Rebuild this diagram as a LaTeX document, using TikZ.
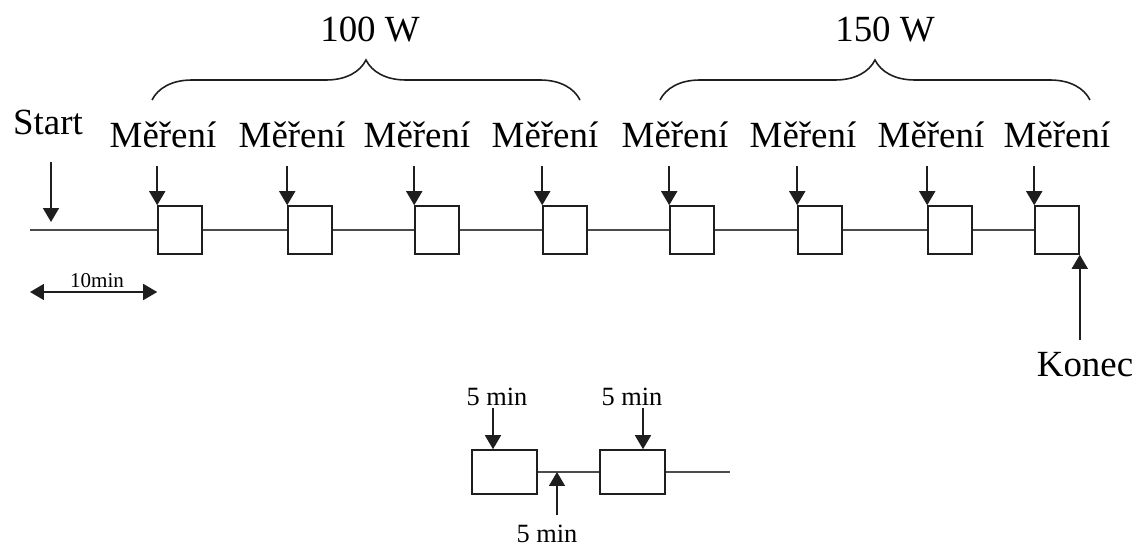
\documentclass[tikz,border=0pt]{standalone}
\usepackage{fontspec}
\setmainfont{Liberation Serif}
\usetikzlibrary{arrows.meta,decorations.pathreplacing}
\definecolor{lineblack}{RGB}{30,30,30}

\begin{document}
\begin{tikzpicture}[x=0.02cm, y=-0.02cm, font=\fontsize{21}{24}\selectfont,
  slot/.style={rectangle, draw=lineblack, minimum width=0.88cm, minimum height=0.96cm, inner sep=0pt, line width=0.9pt},
  smallslot/.style={rectangle, draw=lineblack, minimum width=1.3cm, minimum height=0.88cm, inner sep=0pt, line width=0.9pt},
  lbl/.style={inner sep=0pt},
  tip/.style={draw=lineblack, -{Triangle[length=2.8mm, width=3.2mm]}, line width=0.9pt},
  wire/.style={draw=lineblack!80, line width=0.9pt},
  curly/.style={draw=lineblack, line width=0.9pt, decorate, decoration={brace, amplitude=0.8cm}}]
\useasboundingbox (0,0) rectangle (1137,554);

% time line with the eight measurements
\coordinate (st) at (30,230);
\foreach \i/\x in {1/180,2/310,3/437,4/565,5/692,6/820,7/950,8/1057}
  \node[slot] (b\i) at (\x,230) {};
\draw[wire] (st) -- (b1.west);
\foreach \i/\j in {1/2,2/3,3/4,4/5,5/6,6/7,7/8}
  \draw[wire] (b\i.east) -- (b\j.west);

\foreach \i/\x in {1/163,2/292,3/417,4/545,5/675,6/803,7/931,8/1057}{
  \node[lbl, anchor=south] (m\i) at (\x,148) {Měření};
  \draw[tip, shorten <=0.36cm] (m\i.south -| b\i.north west) -- (b\i.north west);
}

\node[lbl, anchor=south] (start) at (48,135) {Start};
\coordinate (startarr) at (51,162);
\draw[tip, shorten >=0.16cm] (startarr) -- (startarr |- st);

\node[lbl, anchor=north] (konec) at (1085,352) {Konec};
\draw[tip, shorten <=0.24cm] (konec.north -| b8.south east) -- (b8.south east);

% 10 min span
\coordinate (ten) at (30,292);
\draw[draw=lineblack, {Triangle[length=2.8mm, width=3.2mm]}-{Triangle[length=2.8mm, width=3.2mm]}, line width=0.9pt] (ten) -- (ten -| b1.west);
\node[lbl, anchor=base, font=\fontsize{12}{14}\selectfont] (tenlbl) at (97,287) {10min};

% power levels
\coordinate (w1a) at (152,100);
\coordinate (w1b) at (580,100);
\coordinate (w2a) at (660,100);
\coordinate (w2b) at (1090,100);
\draw[curly] (w1a) -- (w1b);
\draw[curly] (w2a) -- (w2b);
\node[lbl, anchor=base] (p100) at (370,42) {100 W};
\node[lbl, anchor=base] (p150) at (885,42) {150 W};

% detail of one measurement
\node[smallslot] (d1) at (504.5,472) {};
\node[smallslot] (d2) at (632.5,472) {};
\coordinate (dend) at (730,472);
\draw[wire] (d1.east) -- (d2.west);
\draw[wire] (d2.east) -- (dend);
\node[lbl, anchor=base, font=\fontsize{15}{17}\selectfont] (t1) at (497,405) {5 min};
\node[lbl, anchor=base, font=\fontsize{15}{17}\selectfont] (t2) at (632,405) {5 min};
\node[lbl, anchor=north, font=\fontsize{15}{17}\selectfont] (t3) at (547,525) {5 min};
\coordinate (a1) at (493,408);
\coordinate (a2) at (643,408);
\coordinate (a3) at (557,515);
\draw[tip] (a1) -- (a1 |- d1.north);
\draw[tip] (a2) -- (a2 |- d2.north);
\draw[tip] (a3) -- (a3 |- d1.east);
\end{tikzpicture}
\end{document}
